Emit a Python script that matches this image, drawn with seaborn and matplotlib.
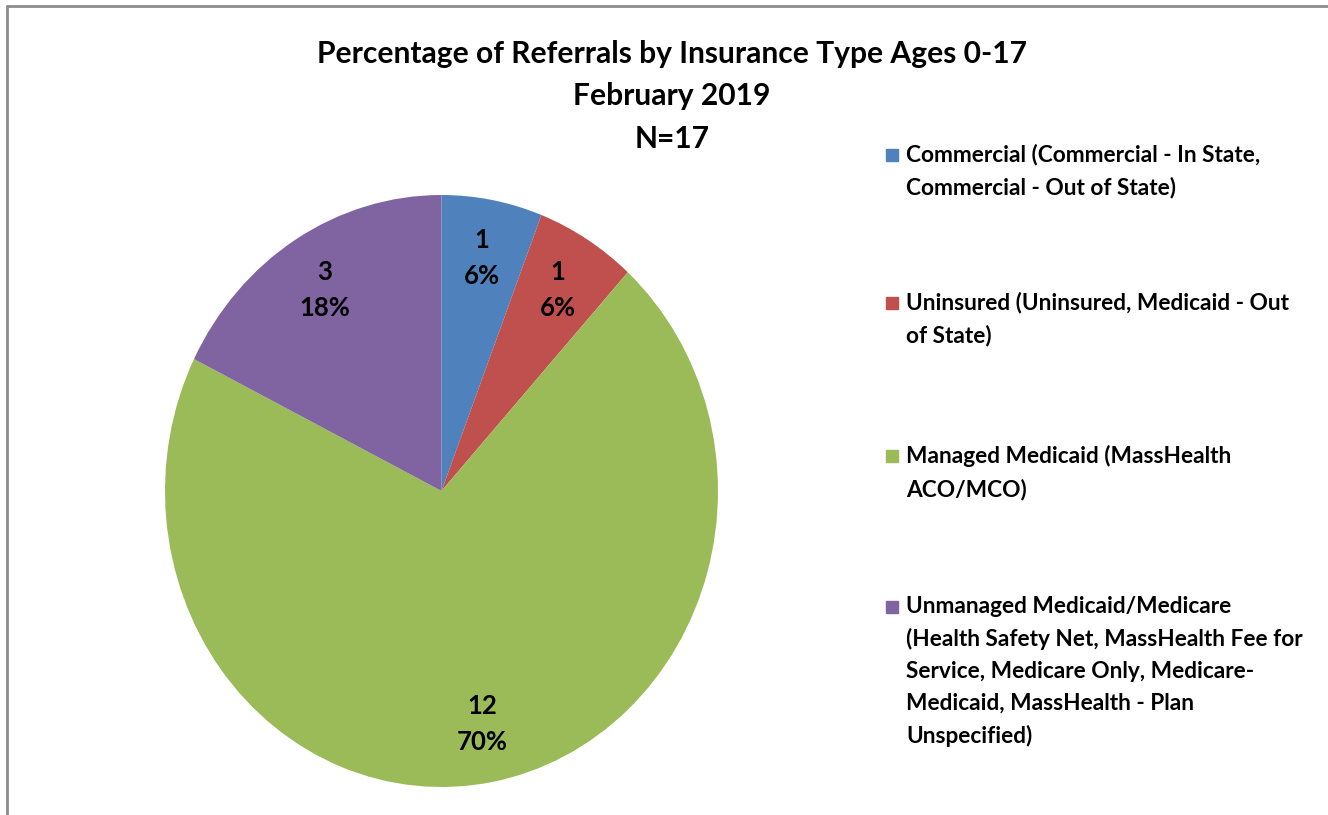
import matplotlib.pyplot as plt
from matplotlib.lines import Line2D
from matplotlib.patches import Rectangle
import seaborn as sns

# data
categories = [
    "Commercial (Commercial - In State,\nCommercial - Out of State)",
    "Uninsured (Uninsured, Medicaid - Out\nof State)",
    "Managed Medicaid (MassHealth\nACO/MCO)",
    "Unmanaged Medicaid/Medicare\n(Health Safety Net, MassHealth Fee for\nService, Medicare Only, Medicare-\nMedicaid, MassHealth - Plan\nUnspecified)",
]
counts = [1, 1, 12, 3]
pct_labels = ["6%", "6%", "70%", "18%"]
colors = ["#4F81BD", "#C0504D", "#9BBB59", "#8064A2"]
title = "Percentage of Referrals by Insurance Type Ages 0-17\nFebruary 2019\nN=17"

sns.set_style("white")
plt.rcParams["font.family"] = ["Lato", "DejaVu Sans"]
plt.rcParams["text.color"] = "black"
palette = sns.color_palette(colors)

W, H = 1328, 815
fig = plt.figure(figsize=(W / 100, H / 100), dpi=100)

# pie axes sized in pixels (the original is slightly stretched vertically)
ax = fig.add_axes([165 / W, (H - 787) / H, 553 / W, 592 / H])
wedges, texts = ax.pie(
    counts,
    labels=[f"{c}\n{p}" for c, p in zip(counts, pct_labels)],
    colors=palette,
    startangle=90,
    counterclock=False,
    labeldistance=0.8,
    wedgeprops=dict(linewidth=0),
    textprops=dict(fontsize=18.5, fontweight="bold", color="black"),
)
for t in texts:
    t.set_ha("center")
    t.set_va("center")
    t.set_multialignment("center")
    t.set_linespacing(1.6)
ax.set_aspect("auto")
ax.set_xlim(-1, 1)
ax.set_ylim(-1, 1)

fig.text(672 / W, 1 - 40 / H, title, ha="center", va="top",
         fontsize=21.6, fontweight="bold", linespacing=1.62)

# legend, drawn by hand so each square sits on the first line of its label
first_line_y = [155, 303, 456, 607]
for label, col, y0 in zip(categories, palette, first_line_y):
    fig.add_artist(Rectangle((886 / W, 1 - (y0 + 6) / H), 12 / W, 12 / H,
                             transform=fig.transFigure, color=col))
    fig.text(906 / W, 1 - (y0 - 11) / H, label, ha="left", va="top",
             fontsize=16.3, fontweight="bold", linespacing=1.63)

# chart frame
fig.add_artist(Line2D([7 / W, 7 / W], [0, 1 - 6 / H], color="#8c8c8c", lw=2))
fig.add_artist(Line2D([7 / W, 1], [1 - 6 / H, 1 - 6 / H], color="#8c8c8c", lw=2))

fig.savefig("out.png", dpi=100)
